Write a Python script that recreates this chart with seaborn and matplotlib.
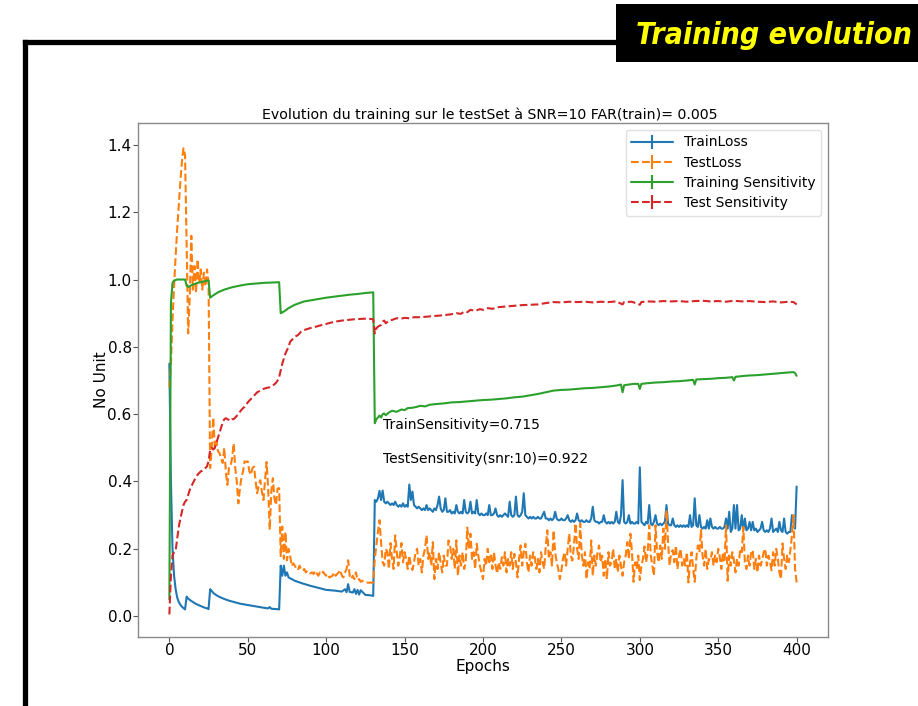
import numpy as np
import pandas as pd
import matplotlib
matplotlib.use("Agg")
import matplotlib.pyplot as plt
from matplotlib.lines import Line2D
from matplotlib.patches import Rectangle
import seaborn as sns

# ---------------- data ----------------
title = "Evolution du training sur le testSet à SNR=10 FAR(train)= 0.005"
series_names = ["TrainLoss", "TestLoss", "Training Sensitivity", "Test Sensitivity"]
x_ticks = [0, 50, 100, 150, 200, 250, 300, 350, 400]
y_ticks = [0.0, 0.2, 0.4, 0.6, 0.8, 1.0, 1.2, 1.4]
note_train = "TrainSensitivity=0.715"
note_test = "TestSensitivity(snr:10)=0.922"

# TrainLoss, epochs 0..130 (epoch, value)
train_loss_early = [
    (0, 0.75), (1, 0.40), (2, 0.20), (3, 0.12), (4, 0.08), (5, 0.055), (6, 0.042),
    (7, 0.034), (8, 0.028), (9, 0.024), (10, 0.020), (11, 0.058), (12, 0.052),
    (14, 0.045), (16, 0.039), (18, 0.034), (20, 0.030), (22, 0.026), (24, 0.023),
    (25, 0.021), (26, 0.080), (27, 0.075), (28, 0.069), (30, 0.062), (32, 0.057),
    (35, 0.051), (38, 0.046), (41, 0.042), (45, 0.037), (50, 0.033), (55, 0.029),
    (60, 0.025), (63, 0.023), (64, 0.027), (65, 0.022), (68, 0.021), (70, 0.020),
    (71, 0.150), (72, 0.120), (73, 0.150), (74, 0.120), (75, 0.130), (76, 0.115),
    (78, 0.110), (80, 0.105), (85, 0.097), (90, 0.090), (95, 0.084), (100, 0.078),
    (105, 0.076), (110, 0.073), (112, 0.080), (113, 0.071), (114, 0.095), (115, 0.072),
    (117, 0.070), (118, 0.080), (119, 0.066), (120, 0.078), (121, 0.064), (122, 0.077),
    (125, 0.063), (128, 0.062), (130, 0.060),
]
# TrainLoss, one value per epoch 131..400
train_loss_late = [
    0.345, 0.34, 0.35, 0.372, 0.345, 0.373, 0.34, 0.335, 0.34, 0.335,
    0.33, 0.335, 0.33, 0.34, 0.33, 0.325, 0.33, 0.325, 0.335, 0.325,
    0.33, 0.325, 0.391, 0.345, 0.37, 0.33, 0.325, 0.32, 0.325, 0.32,
    0.315, 0.32, 0.315, 0.33, 0.315, 0.32, 0.315, 0.31, 0.32, 0.315,
    0.33, 0.355, 0.32, 0.31, 0.315, 0.35, 0.31, 0.31, 0.315, 0.305,
    0.31, 0.305, 0.33, 0.31, 0.305, 0.31, 0.305, 0.345, 0.31, 0.305,
    0.31, 0.34, 0.305, 0.31, 0.305, 0.345, 0.305, 0.30, 0.305, 0.30,
    0.30, 0.305, 0.30, 0.33, 0.30, 0.30, 0.305, 0.32, 0.30, 0.295,
    0.30, 0.295, 0.30, 0.305, 0.30, 0.295, 0.34, 0.30, 0.295, 0.30,
    0.355, 0.30, 0.295, 0.30, 0.31, 0.365, 0.30, 0.295, 0.29, 0.295,
    0.29, 0.295, 0.29, 0.29, 0.295, 0.29, 0.29, 0.30, 0.31, 0.29,
    0.29, 0.285, 0.29, 0.285, 0.29, 0.31, 0.29, 0.285, 0.285, 0.29,
    0.285, 0.285, 0.29, 0.30, 0.285, 0.28, 0.285, 0.28, 0.285, 0.305,
    0.285, 0.28, 0.285, 0.28, 0.28, 0.285, 0.28, 0.28, 0.29, 0.325,
    0.285, 0.28, 0.28, 0.275, 0.28, 0.28, 0.30, 0.28, 0.275, 0.28,
    0.275, 0.28, 0.275, 0.28, 0.31, 0.28, 0.275, 0.30, 0.404, 0.28,
    0.275, 0.28, 0.30, 0.275, 0.28, 0.275, 0.275, 0.28, 0.275, 0.442,
    0.28, 0.275, 0.27, 0.28, 0.275, 0.33, 0.275, 0.27, 0.28, 0.30,
    0.275, 0.27, 0.275, 0.27, 0.275, 0.28, 0.33, 0.275, 0.27, 0.27,
    0.29, 0.27, 0.265, 0.27, 0.265, 0.27, 0.265, 0.27, 0.265, 0.27,
    0.265, 0.30, 0.265, 0.27, 0.35, 0.27, 0.265, 0.30, 0.265, 0.26,
    0.265, 0.26, 0.285, 0.26, 0.29, 0.265, 0.26, 0.265, 0.26, 0.26,
    0.265, 0.26, 0.26, 0.265, 0.29, 0.26, 0.31, 0.25, 0.26, 0.33,
    0.26, 0.33, 0.255, 0.26, 0.30, 0.255, 0.29, 0.255, 0.26, 0.28,
    0.255, 0.28, 0.255, 0.26, 0.25, 0.255, 0.26, 0.28, 0.255, 0.25,
    0.255, 0.25, 0.26, 0.29, 0.25, 0.255, 0.26, 0.25, 0.28, 0.255,
    0.25, 0.29, 0.25, 0.245, 0.25, 0.25, 0.30, 0.28, 0.26, 0.385,
]
# TestLoss, one value per epoch 0..400
test_loss = [
    0.68, 0.75, 0.88, 0.98, 1.07, 1.15, 1.22, 1.29, 1.35, 1.39,
    1.37, 1.10, 0.84, 0.95, 1.13, 0.97, 1.04, 0.96, 1.06, 0.99,
    1.03, 0.97, 1.02, 0.98, 1.03, 0.99, 0.44, 0.50, 0.59, 0.50,
    0.52, 0.49, 0.484, 0.47, 0.455, 0.50, 0.43, 0.39, 0.44, 0.444,
    0.47, 0.513, 0.44, 0.40, 0.335, 0.38, 0.413, 0.43, 0.46, 0.458,
    0.46, 0.43, 0.42, 0.44, 0.444, 0.40, 0.365, 0.39, 0.404, 0.37,
    0.345, 0.40, 0.458, 0.38, 0.256, 0.37, 0.41, 0.35, 0.33, 0.379,
    0.38, 0.178, 0.266, 0.17, 0.25, 0.166, 0.20, 0.18, 0.149, 0.157,
    0.15, 0.14, 0.137, 0.15, 0.14, 0.135, 0.14, 0.13, 0.135, 0.13,
    0.127, 0.13, 0.125, 0.135, 0.127, 0.12, 0.13, 0.125, 0.132, 0.125,
    0.12, 0.125, 0.115, 0.117, 0.12, 0.13, 0.12, 0.125, 0.13, 0.137,
    0.12, 0.115, 0.13, 0.14, 0.166, 0.12, 0.11, 0.12, 0.11, 0.13,
    0.107, 0.11, 0.102, 0.105, 0.102, 0.10, 0.10, 0.099, 0.10, 0.099,
    0.10,
    0.17, 0.21, 0.25, 0.285, 0.22, 0.16, 0.15, 0.20, 0.19, 0.14,
    0.217, 0.17, 0.14, 0.24, 0.19, 0.15, 0.18, 0.217, 0.16, 0.19,
    0.17, 0.14, 0.18, 0.15, 0.137, 0.16, 0.19, 0.20, 0.15, 0.17,
    0.13, 0.18, 0.20, 0.24, 0.17, 0.19, 0.15, 0.22, 0.11, 0.17,
    0.14, 0.19, 0.16, 0.13, 0.18, 0.15, 0.15, 0.225, 0.21, 0.17,
    0.20, 0.14, 0.225, 0.12, 0.18, 0.15, 0.19, 0.14, 0.16, 0.263,
    0.20, 0.245, 0.17, 0.19, 0.14, 0.215, 0.18, 0.15, 0.13, 0.11,
    0.17, 0.15, 0.20, 0.16, 0.18, 0.14, 0.19, 0.15, 0.127, 0.16,
    0.14, 0.175, 0.15, 0.19, 0.13, 0.17, 0.15, 0.19, 0.14, 0.185,
    0.16, 0.115, 0.17, 0.21, 0.15, 0.19, 0.215, 0.16, 0.13, 0.18,
    0.15, 0.19, 0.175, 0.14, 0.17, 0.13, 0.19, 0.16, 0.14, 0.205,
    0.255, 0.17, 0.19, 0.15, 0.255, 0.19, 0.16, 0.14, 0.11, 0.136,
    0.17, 0.19, 0.15, 0.20, 0.245, 0.18, 0.165, 0.21, 0.276, 0.20,
    0.17, 0.275, 0.18, 0.15, 0.19, 0.11, 0.16, 0.14, 0.225, 0.12,
    0.18, 0.15, 0.19, 0.21, 0.16, 0.18, 0.12, 0.17, 0.11, 0.19,
    0.15, 0.16, 0.20, 0.14, 0.17, 0.13, 0.18, 0.15, 0.12, 0.16,
    0.18, 0.22, 0.17, 0.245, 0.19, 0.102, 0.16, 0.14, 0.18, 0.107,
    0.15, 0.17, 0.207, 0.16, 0.19, 0.27, 0.18, 0.15, 0.12, 0.27,
    0.19, 0.16, 0.21, 0.17, 0.26, 0.20, 0.315, 0.22, 0.15, 0.19,
    0.196, 0.16, 0.21, 0.14, 0.18, 0.20, 0.15, 0.17, 0.15, 0.19,
    0.10, 0.16, 0.19, 0.14, 0.102, 0.17, 0.21, 0.19, 0.256, 0.18,
    0.15, 0.20, 0.14, 0.17, 0.166, 0.19, 0.15, 0.18, 0.16, 0.20,
    0.176, 0.14, 0.19, 0.16, 0.27, 0.105, 0.18, 0.15, 0.19, 0.166,
    0.13, 0.17, 0.15, 0.20, 0.19, 0.265, 0.16, 0.14, 0.18, 0.15,
    0.19, 0.196, 0.14, 0.17, 0.13, 0.18, 0.15, 0.166, 0.19, 0.20,
    0.15, 0.18, 0.16, 0.136, 0.19, 0.15, 0.20, 0.17, 0.13, 0.11,
    0.216, 0.17, 0.14, 0.18, 0.16, 0.196, 0.24, 0.30, 0.14, 0.10,
]
# Training Sensitivity (epoch, value)
train_sens = [
    (0, 0.05), (1, 0.93), (2, 0.99), (3, 0.997), (5, 1.0), (10, 1.0), (11, 0.982),
    (12, 0.978), (15, 0.985), (18, 0.99), (21, 0.993), (24, 0.997), (25, 0.997),
    (26, 0.946), (28, 0.953), (31, 0.962), (35, 0.97), (40, 0.977), (45, 0.982),
    (50, 0.986), (55, 0.988), (60, 0.99), (65, 0.991), (70, 0.992), (71, 0.90),
    (72, 0.902), (74, 0.908), (76, 0.915), (78, 0.92), (80, 0.925), (83, 0.93),
    (86, 0.935), (90, 0.938), (95, 0.942), (100, 0.946), (105, 0.949), (110, 0.952),
    (115, 0.955), (120, 0.957), (125, 0.96), (130, 0.962), (131, 0.573), (132, 0.585),
    (133, 0.59), (134, 0.596), (135, 0.59), (136, 0.60), (137, 0.602), (138, 0.597),
    (140, 0.605), (142, 0.61), (145, 0.607), (148, 0.614), (150, 0.612), (152, 0.618),
    (155, 0.619), (158, 0.622), (160, 0.625), (163, 0.623), (166, 0.628), (170, 0.63),
    (175, 0.632), (180, 0.635), (185, 0.636), (190, 0.638), (195, 0.64), (200, 0.642),
    (205, 0.643), (210, 0.645), (215, 0.647), (220, 0.65), (225, 0.652), (230, 0.656),
    (235, 0.66), (240, 0.665), (245, 0.67), (250, 0.672), (255, 0.673), (260, 0.675),
    (265, 0.677), (270, 0.678), (275, 0.68), (280, 0.682), (285, 0.685), (288, 0.688),
    (289, 0.665), (290, 0.686), (293, 0.688), (296, 0.69), (299, 0.69), (300, 0.675),
    (301, 0.69), (305, 0.692), (310, 0.694), (315, 0.695), (320, 0.697), (325, 0.698),
    (330, 0.70), (334, 0.702), (335, 0.688), (336, 0.703), (340, 0.704), (345, 0.705),
    (350, 0.707), (355, 0.708), (359, 0.71), (360, 0.70), (361, 0.711), (365, 0.713),
    (370, 0.715), (375, 0.716), (380, 0.718), (385, 0.72), (390, 0.722), (395, 0.724),
    (398, 0.725), (399, 0.722), (400, 0.714),
]
# Test Sensitivity (epoch, value)
test_sens = [
    (0, 0.005), (1, 0.12), (2, 0.18), (3, 0.19), (4, 0.195), (5, 0.23), (6, 0.265),
    (7, 0.29), (8, 0.31), (9, 0.33), (10, 0.34), (11, 0.345), (12, 0.36), (13, 0.375),
    (14, 0.385), (15, 0.395), (16, 0.404), (17, 0.412), (18, 0.42), (19, 0.425),
    (20, 0.43), (21, 0.432), (22, 0.436), (23, 0.44), (24, 0.445), (25, 0.46),
    (26, 0.493), (27, 0.50), (28, 0.495), (29, 0.50), (30, 0.515), (31, 0.53),
    (32, 0.545), (33, 0.56), (34, 0.575), (35, 0.585), (36, 0.588), (37, 0.585),
    (38, 0.583), (39, 0.58), (40, 0.585), (41, 0.585), (42, 0.59), (43, 0.595),
    (44, 0.60), (45, 0.607), (46, 0.613), (47, 0.618), (48, 0.622), (50, 0.635),
    (52, 0.645), (54, 0.655), (56, 0.665), (58, 0.67), (60, 0.675), (62, 0.678),
    (64, 0.68), (66, 0.685), (68, 0.693), (69, 0.70), (70, 0.71), (71, 0.73),
    (72, 0.75), (73, 0.765), (74, 0.78), (75, 0.79), (76, 0.80), (77, 0.815),
    (78, 0.82), (80, 0.83), (82, 0.835), (84, 0.845), (86, 0.85), (88, 0.853),
    (90, 0.856), (92, 0.858), (95, 0.862), (98, 0.866), (100, 0.868), (103, 0.872),
    (106, 0.875), (110, 0.878), (114, 0.88), (118, 0.882), (122, 0.883), (126, 0.884),
    (130, 0.882), (131, 0.84), (132, 0.855), (133, 0.86), (135, 0.865), (136, 0.875),
    (137, 0.878), (138, 0.87), (140, 0.878), (142, 0.88), (145, 0.885), (148, 0.884),
    (150, 0.886), (153, 0.885), (156, 0.888), (160, 0.888), (165, 0.89), (170, 0.892),
    (175, 0.894), (180, 0.897), (183, 0.90), (186, 0.898), (188, 0.905), (190, 0.903),
    (192, 0.91), (195, 0.907), (198, 0.912), (200, 0.91), (203, 0.915), (206, 0.913),
    (210, 0.918), (215, 0.92), (220, 0.922), (225, 0.924), (230, 0.925), (235, 0.926),
    (240, 0.93), (245, 0.933), (250, 0.932), (255, 0.934), (260, 0.933), (265, 0.934),
    (270, 0.932), (275, 0.934), (280, 0.933), (285, 0.935), (289, 0.926), (290, 0.933),
    (295, 0.934), (300, 0.925), (301, 0.933), (305, 0.935), (310, 0.934), (315, 0.936),
    (320, 0.935), (325, 0.936), (330, 0.934), (335, 0.936), (340, 0.937), (345, 0.935),
    (350, 0.936), (355, 0.934), (360, 0.937), (365, 0.935), (370, 0.936), (375, 0.934),
    (380, 0.933), (385, 0.935), (390, 0.932), (395, 0.934), (398, 0.933), (400, 0.926),
]

colors = ["#1f77b4", "#ff7f0e", "#2ca02c", "#d62728"]
styles = ["-", "--", "-", "--"]

# ---------------- build tidy frames ----------------
tl_ep = [e for e, _ in train_loss_early] + list(range(131, 131 + len(train_loss_late)))
tl_val = [v for _, v in train_loss_early] + train_loss_late
df_train_loss = pd.DataFrame({"epoch": tl_ep, "value": tl_val})
df_test_loss = pd.DataFrame({"epoch": list(range(len(test_loss))), "value": test_loss})
df_train_sens = pd.DataFrame(train_sens, columns=["epoch", "value"])
df_test_sens = pd.DataFrame(test_sens, columns=["epoch", "value"])
frames = [df_train_loss, df_test_loss, df_train_sens, df_test_sens]

# ---------------- figure ----------------
sns.set_theme(style="white")
plt.rcParams["font.family"] = ["DejaVu Sans"]
plt.rcParams["text.color"] = "black"
plt.rcParams["axes.labelcolor"] = "black"
plt.rcParams["xtick.color"] = "black"
plt.rcParams["ytick.color"] = "black"

fig = plt.figure(figsize=(9.18, 7.06), dpi=100)
fig.patch.set_facecolor("white")
ax = fig.add_axes([138 / 918, 1 - 637 / 706, 690 / 918, 514 / 706])

for df, c, ls in zip(frames, colors, styles):
    sns.lineplot(data=df, x="epoch", y="value", ax=ax, color=c, linestyle=ls,
                 linewidth=1.5, legend=False, errorbar=None, estimator=None, sort=False)

# legend handles drawn in the errorbar style of the reference
handles = []
for name, c, ls in zip(series_names, colors, styles):
    h = ax.errorbar([np.nan], [np.nan], yerr=[0.0], color=c, linestyle=ls,
                    linewidth=1.5, label=name)
    handles.append(h)
leg = ax.legend(handles=handles, labels=series_names, loc="upper right",
                fontsize=10, frameon=True, fancybox=True, framealpha=0.8,
                edgecolor="#d9d9d9", labelspacing=0.45, handlelength=3.0)

ax.set_xlim(-20, 420)
ax.set_ylim(-0.062, 1.465)
ax.set_xticks(x_ticks)
ax.set_yticks(y_ticks)
ax.set_xticklabels([str(t) for t in x_ticks])
ax.set_yticklabels([f"{t:.1f}" for t in y_ticks])
ax.tick_params(axis="both", labelsize=11, length=3.5, width=0.8, color="#555555",
               labelcolor="black", bottom=True, left=True, pad=1.0)
for sp in ax.spines.values():
    sp.set_color("#8a8a8a")
    sp.set_linewidth(1.0)
ax.set_xlabel("Epochs", fontsize=11, labelpad=0.5, color="black")
ax.set_ylabel("No Unit", fontsize=11, labelpad=-1, color="black")
ax.set_title(title, fontsize=10.2, pad=3, color="black", x=0.51)

ax.text(136, 0.555, note_train, fontsize=10, color="black")
ax.text(136, 0.455, note_test, fontsize=10, color="black")

# slide decorations: black frame and title box
fig.add_artist(Line2D([24.5 / 918, 24.5 / 918], [1 - 41.5 / 706, -0.05],
                      transform=fig.transFigure, color="black", linewidth=3.8,
                      solid_capstyle="projecting"))
fig.add_artist(Line2D([24.5 / 918, 620 / 918], [1 - 41.5 / 706, 1 - 41.5 / 706],
                      transform=fig.transFigure, color="black", linewidth=3.8,
                      solid_capstyle="projecting"))
fig.add_artist(Rectangle((616 / 918, 1 - 62 / 706), 310 / 918, 58 / 706,
                         transform=fig.transFigure, facecolor="black",
                         edgecolor="none"))
fig.text(912 / 918, 1 - 35 / 706, "Training evolution", color="#ffff00",
         fontsize=21.7, fontweight="bold", fontstyle="italic", fontstretch="condensed",
         family=["DejaVu Sans"],
         ha="right", va="center")

fig.savefig("out.png", dpi=100)
